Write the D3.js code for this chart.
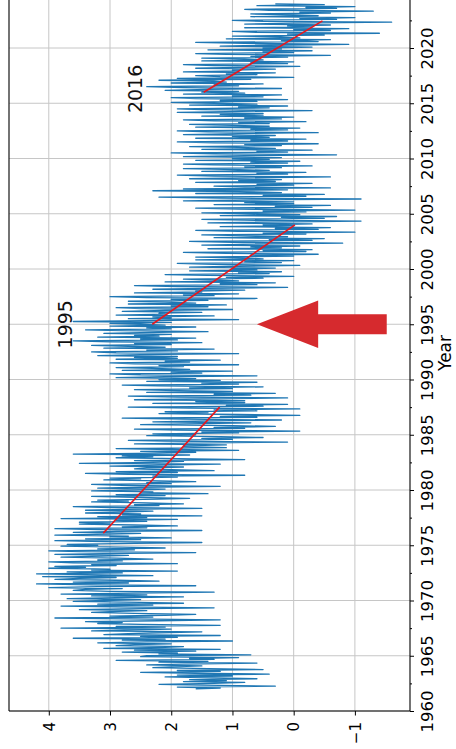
<!DOCTYPE html>
<html><head><meta charset="utf-8">
<script src="https://cdn.jsdelivr.net/npm/d3@7"></script>
<style>html,body{margin:0;padding:0;background:#fff;} svg{display:block;font-family:"DejaVu Sans",sans-serif;}</style>
</head><body><svg id="c" width="456" height="749"></svg>
<script>
// ---------------- data ----------------
const startYear = 1962; // monthly series starts Jan 1962
const values1960s = [
 1.6,1.2,1.9,0.3,1.5,2.2,1.3,0.8,1.8,1.1,1.7,0.6,
 1.3,2.1,1.0,1.9,0.4,1.6,2.5,1.2,1.9,0.5,1.4,2.3,
 2.0,1.5,2.4,1.8,0.6,2.2,1.4,2.9,1.3,1.7,0.9,2.5,
 2.4,0.7,2.2,1.9,2.8,1.6,2.6,1.2,3.1,2.1,1.8,2.9,
 2.6,2.0,3.2,2.4,1.0,2.8,2.1,3.6,1.9,2.5,1.2,3.1,
 2.7,2.2,1.5,3.3,2.6,2.0,3.8,2.1,2.9,1.2,2.5,3.2,
 2.8,3.4,2.2,1.2,2.7,3.9,2.3,3.0,2.1,1.6,2.6,3.3,
 3.0,2.4,3.5,2.8,1.3,2.9,3.8,2.3,3.2,1.8,2.5,3.6];
const values1970s = [
 3.1,2.5,3.7,2.9,1.8,3.3,2.4,3.8,2.6,1.3,3.0,3.6,
 3.4,2.8,4.0,3.2,1.6,3.3,4.2,2.7,3.6,2.2,2.9,3.9,
 3.5,2.9,4.1,2.3,3.4,4.2,2.8,3.7,1.9,3.3,3.0,4.0,
 3.4,3.9,2.9,3.3,1.9,3.6,4.0,2.8,3.2,2.3,2.9,3.8,
 3.3,2.7,3.9,3.1,1.6,3.5,4.0,2.6,3.2,2.1,2.8,3.8,
 3.2,3.7,2.6,1.5,3.1,3.9,2.5,3.4,2.0,3.0,2.7,3.9,
 3.0,2.5,3.6,2.9,1.5,3.2,3.9,2.4,2.8,1.9,2.6,3.5,
 3.0,3.5,2.4,2.9,1.9,3.8,2.4,3.2,1.5,2.8,2.5,3.4,
 2.8,2.3,3.4,2.7,1.5,3.0,3.6,2.2,2.6,1.8,2.4,3.3,
 2.7,3.2,2.2,1.7,2.6,3.3,2.1,2.9,1.4,2.5,2.3,3.3];
const values1980s = [
 2.6,2.1,3.2,2.5,1.2,2.8,3.3,2.0,2.4,1.6,2.2,3.1,
 2.5,3.0,1.9,2.3,0.8,2.7,3.4,1.9,2.9,1.3,2.0,2.6,
 2.4,1.8,3.0,2.2,1.2,3.5,2.3,1.8,2.6,0.8,1.9,2.9,
 2.3,2.8,1.7,3.6,2.2,1.6,2.5,0.9,2.0,2.9,1.1,1.8,
 1.8,1.1,2.6,1.7,0.1,2.1,2.7,1.0,1.5,0.5,1.2,2.4,
 1.6,2.3,0.9,1.5,-0.1,1.9,2.6,0.8,1.3,0.3,1.0,2.5,
 1.5,0.7,2.3,1.4,0.2,1.8,2.8,0.6,1.2,-0.1,0.9,2.2,
 1.4,2.1,0.6,1.3,-0.1,1.7,2.7,0.5,1.1,0.1,2.3,0.8,
 1.6,0.8,2.6,1.5,0.1,1.9,2.7,0.7,1.3,0.3,2.4,1.0,
 1.9,2.6,1.0,1.7,0.5,2.2,2.8,0.9,1.5,0.6,2.4,1.2];
const values1990s = [
 2.2,1.6,2.9,2.1,0.6,2.5,3.0,1.5,2.0,1.0,2.8,1.7,
 2.3,2.9,1.8,2.2,0.9,2.6,3.0,1.7,2.1,1.2,2.9,1.9,
 2.6,1.9,3.2,2.5,0.9,2.9,3.3,1.9,2.4,1.3,3.1,2.1,
 2.7,3.3,2.0,2.6,1.5,3.0,3.6,1.9,2.5,1.6,3.2,2.2,
 2.6,2.0,3.1,2.5,1.4,2.8,3.4,2.0,2.4,1.6,3.0,2.1,
 2.5,3.0,2.0,3.6,2.4,0.9,2.7,2.0,2.3,1.3,2.9,2.1,
 2.2,1.5,2.8,2.1,1.0,2.5,2.9,1.4,2.0,1.1,2.7,1.6,
 2.1,2.7,1.4,2.0,0.6,2.4,3.0,1.3,1.8,0.9,2.6,1.5,
 1.6,0.8,2.3,1.4,0.1,1.9,2.6,0.6,1.2,0.3,2.1,0.9,
 1.2,1.8,0.5,1.1,0.0,1.4,2.1,0.4,0.9,0.2,1.7,0.6];
const values2000s = [
 1.0,0.3,1.7,0.9,-0.1,1.3,1.9,0.2,0.8,0.0,1.6,0.5,
 0.8,1.6,0.0,0.7,-0.4,1.1,1.8,-0.2,0.5,-0.3,1.4,0.2,
 0.7,-0.1,1.5,0.6,-0.8,1.0,1.7,-0.3,0.4,-0.5,1.3,0.1,
 0.6,1.5,-0.2,0.5,-1.0,0.9,1.6,-0.4,0.3,-0.6,1.2,0.0,
 0.5,-0.3,1.4,0.4,-1.1,0.8,1.5,-0.5,0.2,-0.7,1.2,-0.1,
 0.6,1.5,-0.2,0.5,-1.0,0.9,1.6,-0.3,0.3,-0.6,1.3,0.0,
 0.8,0.0,1.8,0.7,-1.1,1.2,2.2,-0.2,0.5,-0.5,1.6,0.2,
 0.9,2.3,0.1,1.8,-0.6,0.8,1.3,0.0,0.6,-0.3,1.6,0.3,
 0.9,0.2,1.7,0.8,-0.6,1.3,1.9,0.1,0.6,-0.2,1.5,0.4,
 0.9,1.8,0.2,0.8,-0.3,1.3,1.8,0.1,0.7,-0.1,1.6,0.4];
const values2010s = [
 1.0,0.2,1.8,0.8,-0.7,1.3,2.0,0.1,0.6,-0.3,1.5,0.3,
 0.9,1.7,0.2,0.8,-0.4,1.3,1.9,0.1,0.7,-0.2,1.6,0.4,
 1.0,0.3,1.8,0.9,-0.4,1.4,1.9,0.1,0.7,-0.1,1.6,0.4,
 1.0,1.7,0.4,0.9,-0.2,1.3,1.8,0.2,0.8,0.0,1.5,0.5,
 1.2,0.5,1.9,1.1,-0.3,1.5,1.9,0.4,0.9,0.1,1.7,0.6,
 1.3,2.0,0.6,1.2,0.1,1.6,2.0,0.5,1.0,0.2,1.8,0.8,
 1.5,0.9,2.1,1.4,0.2,1.8,2.4,0.9,1.3,0.5,2.0,1.1,
 1.3,2.2,0.7,1.9,0.0,1.2,1.6,0.6,1.1,0.3,1.8,0.9,
 1.0,0.3,1.6,0.9,-0.1,1.3,1.8,0.1,0.7,0.0,1.5,0.5,
 0.8,1.5,0.1,0.7,-0.6,1.1,1.6,0.0,0.5,-0.3,1.4,0.2];
const values2020s = [
 0.5,-0.3,1.2,0.4,-0.9,0.8,1.6,-0.4,0.2,-0.6,1.1,-0.1,
 0.2,1.0,-0.5,0.1,-1.4,0.6,1.0,-0.6,0.0,-0.9,0.8,-0.3,
 0.1,-0.6,0.8,0.0,-1.6,0.5,1.0,-0.7,-0.1,-1.0,0.7,-0.4,
 0.0,0.7,-0.6,-0.1,-1.3,0.4,0.8,-0.7,-0.2,-1.0,0.6,-0.5,
 0.3];

const valueTicks = [4, 3, 2, 1, 0, -1];
const yearTicks = [1960, 1965, 1970, 1975, 1980, 1985, 1990, 1995, 2000, 2005, 2010, 2015, 2020];
const yearMinorTicks = [1962.5, 1967.5, 1972.5, 1977.5, 1982.5, 1987.5, 1992.5, 1997.5, 2002.5, 2007.5, 2012.5, 2017.5, 2022.5];

// red trend segments: [year, value] endpoints
const trendStartYears  = [1976.1, 1995.0, 2016.0];
const trendStartValues = [3.11, 2.31, 1.47];
const trendEndYears    = [1987.5, 2004.0, 2022.45];
const trendEndValues   = [1.21, -0.02, -0.47];

const labelTexts  = ["1995", "2016"];
const labelYears  = [1995.0, 2016.3];
const labelValues = [3.73, 2.59];

// ---------------- drawing ----------------
const series = [].concat(values1960s, values1970s, values1980s, values1990s, values2000s, values2010s, values2020s)
  .map((v, i) => ({ t: startYear + i / 12, v: v }));

const svg = d3.select("#c");
svg.append("rect").attr("width", 456).attr("height", 749).attr("fill", "#fff");

const pL = 9, pR = 410, pB = 711, pT = -12;
const x = d3.scaleLinear().domain([4.65, -1.9]).range([pL, pR]);
const y = d3.scaleLinear().domain([1960, 2025]).range([pB, pB - 65 * 11.05]);

// grid
const grid = svg.append("g").attr("stroke", "#c6c6c6").attr("stroke-width", 1);
grid.selectAll("line.v").data(valueTicks).join("line").attr("class", "v")
  .attr("x1", d => x(d)).attr("x2", d => x(d)).attr("y1", pT).attr("y2", pB);
grid.selectAll("line.h").data(yearTicks).join("line").attr("class", "h")
  .attr("x1", pL).attr("x2", pR).attr("y1", d => y(d)).attr("y2", d => y(d));

// clip
svg.append("clipPath").attr("id", "pa").append("rect")
  .attr("x", pL).attr("y", pT).attr("width", pR - pL).attr("height", pB - pT);

// series
svg.append("path").datum(series)
  .attr("clip-path", "url(#pa)")
  .attr("fill", "none").attr("stroke", "#1f77b4").attr("stroke-width", 1.3)
  .attr("stroke-linejoin", "round")
  .attr("d", d3.line().x(d => x(d.v)).y(d => y(d.t)));

// trend lines
svg.append("g").selectAll("line").data(trendStartYears).join("line")
  .attr("x1", (d, i) => x(trendStartValues[i])).attr("y1", (d, i) => y(trendStartYears[i]))
  .attr("x2", (d, i) => x(trendEndValues[i])).attr("y2", (d, i) => y(trendEndYears[i]))
  .attr("stroke", "#e8171c").attr("stroke-width", 1.6);

// annotations
svg.append("g").selectAll("text").data(labelTexts).join("text")
  .attr("transform", (d, i) => `translate(${x(labelValues[i])},${y(labelYears[i])}) rotate(-90)`)
  .attr("text-anchor", "middle").attr("dy", "0.35em")
  .attr("font-size", 19).attr("fill", "#111").text(d => d);

// arrow (pointing toward higher values, at 1995)
const arrowTipValue = 0.6, arrowHeadBackValue = -0.4, arrowTailValue = -1.52;
const arrowYear = 1995, arrowHeadHalfYears = 2.15, arrowShaftHalfYears = 0.9;
const ap = [
  [x(arrowTipValue), y(arrowYear)],
  [x(arrowHeadBackValue), y(arrowYear + arrowHeadHalfYears)],
  [x(arrowHeadBackValue), y(arrowYear + arrowShaftHalfYears)],
  [x(arrowTailValue), y(arrowYear + arrowShaftHalfYears)],
  [x(arrowTailValue), y(arrowYear - arrowShaftHalfYears)],
  [x(arrowHeadBackValue), y(arrowYear - arrowShaftHalfYears)],
  [x(arrowHeadBackValue), y(arrowYear - arrowHeadHalfYears)]
];
svg.append("path").attr("d", d3.line()(ap) + "Z").attr("fill", "#d62a2e");

// axes
const xAxis = svg.append("g").attr("transform", `translate(0,${pB})`)
  .call(d3.axisBottom(x).tickValues(valueTicks).tickSize(4.5).tickFormat(d3.format("d")));
xAxis.select(".domain").remove();
xAxis.selectAll("text")
  .attr("transform", `translate(0,11) rotate(-90)`)
  .attr("y", 0).attr("x", 0).attr("dy", "0.35em").attr("text-anchor", "end")
  .attr("font-size", 15).attr("font-family", "DejaVu Sans").attr("fill", "#000");

const yAxis = svg.append("g").attr("transform", `translate(${pR},0)`)
  .call(d3.axisRight(y).tickValues(yearTicks).tickSize(4).tickFormat(d3.format("d")));
yAxis.select(".domain").remove();
yAxis.selectAll("text")
  .attr("transform", `translate(17,0) rotate(-90)`)
  .attr("x", 0).attr("y", 0).attr("dy", "0.35em").attr("text-anchor", "middle")
  .attr("font-size", 16.5).attr("font-family", "DejaVu Sans").attr("fill", "#000");
svg.append("g").attr("transform", `translate(${pR},0)`)
  .call(d3.axisRight(y).tickValues(yearMinorTicks).tickSize(2).tickFormat(""))
  .select(".domain").remove();

// spines
const sp = svg.append("g").attr("stroke", "#000").attr("stroke-width", 1.1).attr("fill", "none");
sp.append("line").attr("x1", pL).attr("x2", pL).attr("y1", pT).attr("y2", pB);
sp.append("line").attr("x1", pR).attr("x2", pR).attr("y1", pT).attr("y2", pB);
sp.append("line").attr("x1", pL).attr("x2", pR).attr("y1", pB).attr("y2", pB);

// axis title
svg.append("text").attr("transform", `translate(445,353) rotate(-90)`)
  .attr("text-anchor", "middle").attr("dy", "0.35em")
  .attr("font-size", 17).attr("fill", "#000").text("Year");
</script></body></html>
